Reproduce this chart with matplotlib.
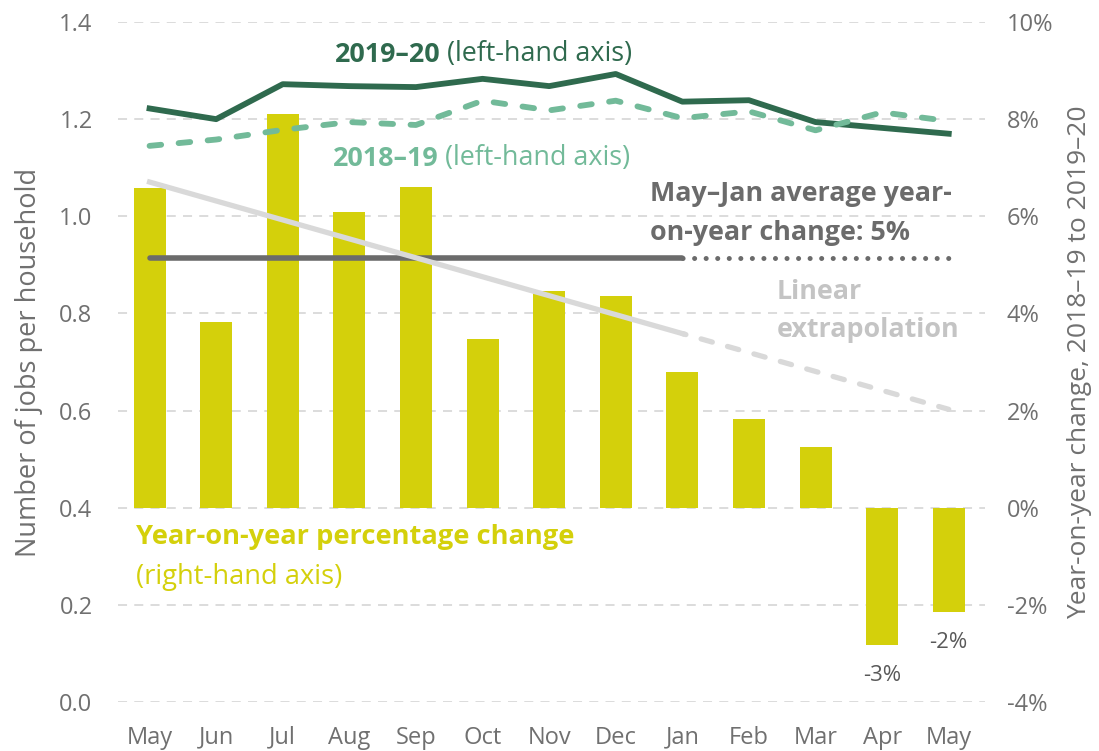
import numpy as np
import matplotlib.pyplot as plt

plt.rcParams['font.family'] = ['Open Sans', 'DejaVu Sans']

months = ["May", "Jun", "Jul", "Aug", "Sep", "Oct", "Nov", "Dec", "Jan", "Feb", "Mar", "Apr", "May"]
# year-on-year % change (right-hand axis)
yoy_pct = [6.58, 3.83, 8.10, 6.09, 6.60, 3.48, 4.47, 4.36, 2.80, 1.83, 1.26, -2.82, -2.14]
# jobs per household (left-hand axis)
jobs_1920 = [1.222, 1.200, 1.272, 1.268, 1.266, 1.283, 1.268, 1.293, 1.236, 1.239, 1.194, 1.182, 1.170]
jobs_1819 = [1.145, 1.158, 1.178, 1.194, 1.188, 1.238, 1.218, 1.238, 1.202, 1.216, 1.177, 1.214, 1.196]
bar_labels = {11: "-3%", 12: "-2%"}

left_ticks = [0.0, 0.2, 0.4, 0.6, 0.8, 1.0, 1.2, 1.4]
right_ticks = [-4, -2, 0, 2, 4, 6, 8, 10]

x = np.arange(len(months))
n_fit = 9  # May-Jan

avg = np.mean(yoy_pct[:n_fit])
slope, icpt = np.polyfit(x[:n_fit], yoy_pct[:n_fit], 1)
fit = icpt + slope * x

c_bar = "#d4d00b"
c_dark = "#2f6a4e"
c_light = "#72ba99"
c_avg = "#6b6b6b"
c_ext = "#d9d9d9"
c_tick = "#707070"

fig = plt.figure(figsize=(10.99, 7.51), dpi=100)
ax = fig.add_axes([0.107, 0.0652, 0.789, 0.9055])
ax2 = ax.twinx()
ax.set_zorder(ax2.get_zorder() + 1)
ax.patch.set_visible(False)

# bars and % lines on the right axis
ax2.bar(x, yoy_pct, width=0.48, color=c_bar, zorder=2)
ax2.plot(x[:n_fit], [avg] * n_fit, color=c_avg, lw=4, solid_capstyle="round", zorder=3)
ax2.plot(x[n_fit - 1:], [avg] * (len(x) - n_fit + 1), color=c_avg, lw=3.6,
         linestyle=(2.2, (0.01, 2.3)), dash_capstyle="round", zorder=3)
ax2.plot(x[:n_fit], fit[:n_fit], color=c_ext, lw=3.8, zorder=3)
ax2.plot(x[n_fit - 1:], fit[n_fit - 1:], color=c_ext, lw=3.8, linestyle=(1.5, (2.2, 3.0)),
         dash_capstyle="round", zorder=3)
for i, lab in bar_labels.items():
    ax2.annotate(lab, (x[i], yoy_pct[i]), xytext=(0, -22), textcoords="offset points",
                 ha="center", va="center", fontsize=16, color="#595959")

# jobs per household lines on the left axis
ax.plot(x, jobs_1920, color=c_dark, lw=4.2, zorder=4)
ax.plot(x, jobs_1819, color=c_light, lw=4.2, linestyle=(0, (2.0, 3.0)),
        dash_capstyle="round", zorder=4)

ax.set_xlim(-0.48, 12.54)
ax.set_ylim(0, 1.4)
ax2.set_ylim(-4, 10)
ax.set_yticks(left_ticks)
ax.set_yticklabels([f"{v:.1f}" for v in left_ticks])
ax2.set_yticks(right_ticks)
ax2.set_yticklabels([f"{v}%" for v in right_ticks])
ax.set_xticks(x)
ax.set_xticklabels(months)

ax2.grid(axis="y", color="#d9d9d9", lw=1.3, linestyle=(0, (5, 4)))
ax2.set_axisbelow(True)
for a in (ax, ax2):
    for s in a.spines.values():
        s.set_visible(False)
    a.tick_params(length=0, labelsize=17, labelcolor=c_tick)
ax.tick_params(axis="y", pad=18)
ax2.tick_params(axis="y", pad=16)
ax.tick_params(axis="x", pad=17)

ax.set_ylabel("Number of jobs per household", fontsize=19.5, color=c_tick, labelpad=12)
ax2.set_ylabel("Year-on-year change, 2018\u201319 to 2019\u201320", fontsize=19, color=c_tick, labelpad=10)

fs = 19.4
t1 = ax.text(2.78, 1.306, "2019\u201320", fontsize=fs, fontweight="bold", color=c_dark, va="bottom")
ax.annotate(" (left-hand axis)", xy=(1, 0), xycoords=t1, va="bottom", fontsize=fs, color=c_dark)
t2 = ax.text(2.75, 1.092, "2018\u201319", fontsize=fs, fontweight="bold", color=c_light, va="bottom")
ax.annotate(" (left-hand axis)", xy=(1, 0), xycoords=t2, va="bottom", fontsize=fs, color=c_light)

ax2.text(7.51, 6.06, "May\u2013Jan average year-\non-year change: 5%", fontsize=fs, fontweight="bold",
         color=c_avg, va="center", linespacing=1.65)
ax2.text(9.42, 4.05, "Linear\nextrapolation", fontsize=fs, fontweight="bold",
         color="#c4c4c4", va="center", linespacing=1.58)
ax2.text(-0.2, -0.6, "Year-on-year percentage change", fontsize=19.6, fontweight="bold",
         color=c_bar, va="center")
ax2.text(-0.2, -1.42, "(right-hand axis)", fontsize=19.6, color=c_bar, va="center")

fig.savefig("out.png", dpi=100)
